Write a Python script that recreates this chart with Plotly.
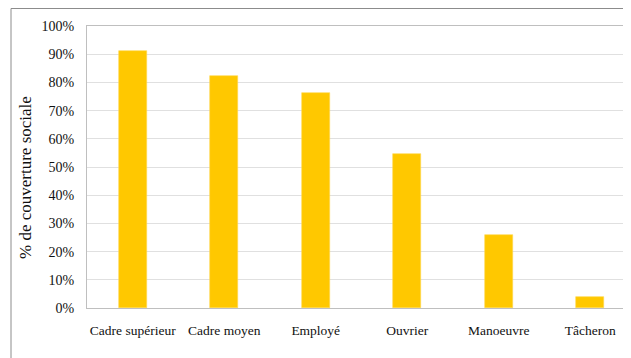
import plotly.graph_objects as go

categories = ["Cadre supérieur", "Cadre moyen", "Employé", "Ouvrier", "Manoeuvre", "Tâcheron"]
values = [91.0, 82.2, 76.1, 54.5, 25.8, 3.8]
y_ticks = [0, 10, 20, 30, 40, 50, 60, 70, 80, 90, 100]
y_ticktext = [f"{v}%" for v in y_ticks]
y_title = "% de couverture sociale"

OFF = 8  # default page body margin
W, H = 631 - OFF, 358 - OFF
L, R, T, B = 87 - OFF, 0, 26 - OFF, 50
pw, ph = W - L - R, H - T - B

font = dict(family="Liberation Serif", size=14, color="#111111")
xfont = dict(family="Liberation Serif", size=13.5, color="#111111")

fig = go.Figure(go.Bar(
    x=list(range(len(categories))), y=values,
    marker=dict(color="#FFC800", line=dict(color="#FFD94D", width=0.6)),
    width=0.31,
))

fig.update_layout(
    width=W, height=H,
    margin=dict(l=L, r=R, t=T, b=B, pad=0, autoexpand=False),
    paper_bgcolor="white", plot_bgcolor="white",
    showlegend=False,
    font=font,
    bargap=0,
)
fig.update_xaxes(
    range=[-0.5, -0.5 + pw / 91.5],
    tickvals=list(range(len(categories))), ticktext=categories,
    showgrid=False, zeroline=False, automargin=False,
    showline=True, linecolor="#bfbfbf", linewidth=1, mirror=True,
    ticks="", ticklabelstandoff=10, tickfont=xfont,
)
fig.update_yaxes(
    range=[0, 100],
    tickvals=y_ticks, ticktext=y_ticktext,
    showgrid=True, gridcolor="#e0e0e0", gridwidth=1,
    zeroline=False, automargin=False,
    showline=True, linecolor="#bfbfbf", linewidth=1,
    ticks="", ticklabelstandoff=9, tickfont=font,
)
fig.add_annotation(
    text=y_title, textangle=-90, showarrow=False,
    xref="paper", yref="paper",
    x=(25 - 87) / pw, y=(308 - 178) / ph,
    xanchor="center", yanchor="middle",
    font=dict(family=font["family"], size=17, color="#111111"),
)
# outer chart frame (left and top edges visible)
fx = (11 - 87) / pw
fy = 1 + (26 - 8.5) / ph
fig.add_shape(type="line", xref="paper", yref="paper", x0=fx, x1=fx, y0=fy, y1=-0.5,
              line=dict(color="#8c8c8c", width=1))
fig.add_shape(type="line", xref="paper", yref="paper", x0=fx, x1=1.2, y0=fy, y1=fy,
              line=dict(color="#8c8c8c", width=1))

fig.write_html("out.html")
